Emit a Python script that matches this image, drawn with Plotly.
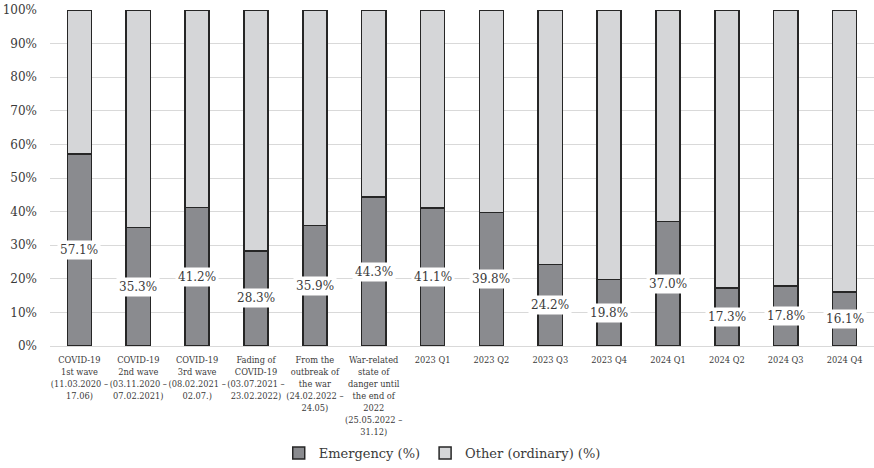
import plotly.graph_objects as go

categories = [
    "COVID-19<br>1st wave<br>(11.03.2020 –<br>17.06)",
    "COVID-19<br>2nd wave<br>(03.11.2020 –<br>07.02.2021)",
    "COVID-19<br>3rd wave<br>(08.02.2021 –<br>02.07.)",
    "Fading of<br>COVID-19<br>(03.07.2021 –<br>23.02.2022)",
    "From the<br>outbreak of<br>the war<br>(24.02.2022 –<br>24.05)",
    "War-related<br>state of<br>danger until<br>the end of<br>2022<br>(25.05.2022 –<br>31.12)",
    "2023 Q1", "2023 Q2", "2023 Q3", "2023 Q4",
    "2024 Q1", "2024 Q2", "2024 Q3", "2024 Q4",
]
emergency = [57.1, 35.3, 41.2, 28.3, 35.9, 44.3, 41.1, 39.8, 24.2, 19.8, 37.0, 17.3, 17.8, 16.1]
other = [42.9, 64.7, 58.8, 71.7, 64.1, 55.7, 58.9, 60.2, 75.8, 80.2, 63.0, 82.7, 82.2, 83.9]

FONT = "DejaVu Serif"
TICKFONT = "DejaVu Serif Condensed, Liberation Serif"
TXT = "#3a3a3a"

fig = go.Figure()
fig.add_trace(go.Bar(
    x=categories, y=emergency, name="Emergency (%)",
    marker=dict(color="#8a8b8f", line=dict(color="#262626", width=1.5)),
    width=0.41,
))
fig.add_trace(go.Bar(
    x=categories, y=other, name="Other (ordinary) (%)",
    marker=dict(color="#d5d6d8", line=dict(color="#262626", width=1.5)),
    width=0.41,
))

for c, v in zip(categories, emergency):
    fig.add_annotation(
        x=c, y=v / 2, text=f"{v:.1f}%", showarrow=False,
        bgcolor="white", borderpad=2,
        font=dict(family=FONT, size=12, color=TXT),
    )

fig.update_layout(
    barmode="stack",
    width=874, height=468,
    margin=dict(l=50, r=0, t=10, b=120),
    paper_bgcolor="white", plot_bgcolor="white",
    font=dict(family=FONT, size=12, color=TXT),
    showlegend=True,
    legend=dict(
        orientation="h", x=0.476, xanchor="center", y=-0.32, yanchor="middle",
        font=dict(family=FONT, size=13, color=TXT),
        bgcolor="rgba(0,0,0,0)",
        traceorder="normal", itemwidth=30,
    ),
)
fig.update_xaxes(
    tickfont=dict(family=TICKFONT, size=9.2, color=TXT),
    tickangle=0, showline=False, ticks="", ticklabelstandoff=7,
)
fig.update_yaxes(
    range=[0, 100], dtick=10, ticksuffix="%",
    showgrid=True, gridcolor="#d9d9d9", gridwidth=1,
    zeroline=True, zerolinecolor="#d9d9d9", zerolinewidth=1,
    tickfont=dict(family=FONT, size=12, color=TXT),
    ticks="", ticklabelstandoff=12,
)

fig.write_html("out.html")
